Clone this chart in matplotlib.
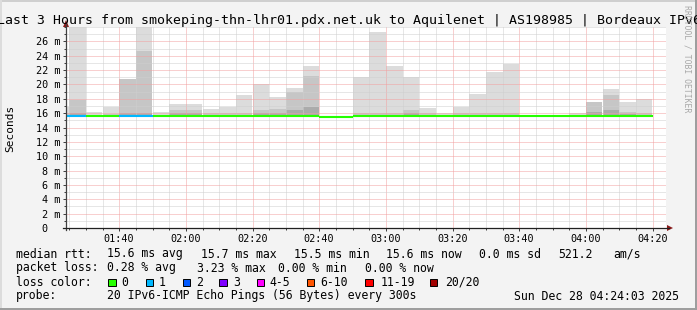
import numpy as np
import matplotlib
matplotlib.use("Agg")
import matplotlib.pyplot as plt
from matplotlib.lines import Line2D
from matplotlib.patches import Polygon, Rectangle
from matplotlib.ticker import MultipleLocator

W, H = 697, 310
MONO = "DejaVu Sans Mono"

# 5 minute steps, start of each interval
times = ["01:20", "01:25", "01:30", "01:35", "01:40", "01:45", "01:50", "01:55",
         "02:00", "02:05", "02:10", "02:15", "02:20", "02:25", "02:30", "02:35",
         "02:40", "02:45", "02:50", "02:55", "03:00", "03:05", "03:10", "03:15",
         "03:20", "03:25", "03:30", "03:35", "03:40", "03:45", "03:50", "03:55",
         "04:00", "04:05", "04:10", "04:15"]

# smoke layers (ms)
smoke_max = [16.9, 30.0, 16.1, 16.8, 20.8, 30.0, 16.1, 17.3, 17.3, 16.6, 16.9, 18.55,
             20.0, 18.3, 19.5, 22.6, 15.6, 15.6, 21.0, 27.3, 22.6, 21.1, 16.7, 16.0,
             16.9, 18.7, 21.7, 22.8, 15.6, 15.6, 15.6, 16.0, 17.6, 19.4, 17.5, 18.0]
smoke_mid = [16.0, 17.8, 15.8, 15.9, 20.8, 24.7, 15.8, 16.5, 16.4, 16.0, 16.0, 16.0,
             16.5, 16.6, 18.9, 21.2, 15.6, 15.6, 16.0, 16.0, 16.0, 16.5, 16.0, 15.8,
             16.0, 16.0, 16.0, 16.0, 15.6, 15.6, 15.6, 15.8, 17.6, 18.5, 16.2, 16.0]
smoke_core = [15.8, 16.0, 15.7, 15.7, 16.0, 16.0, 15.7, 16.0, 16.0, 15.8, 15.8, 15.8,
              16.0, 16.0, 16.4, 16.8, 15.6, 15.6, 15.8, 15.8, 15.8, 16.0, 15.8, 15.7,
              15.8, 15.8, 15.8, 15.8, 15.6, 15.6, 15.6, 15.7, 16.2, 16.4, 15.9, 15.8]
median = [15.55, 15.55, 15.6, 15.6, 15.55, 15.55, 15.6, 15.6, 15.6, 15.6, 15.6, 15.6,
          15.6, 15.6, 15.6, 15.6, 15.45, 15.45, 15.55, 15.55, 15.6, 15.6, 15.6, 15.55,
          15.55, 15.55, 15.6, 15.6, 15.6, 15.6, 15.6, 15.6, 15.6, 15.6, 15.6, 15.6]
loss_idx = [1, 1, 0, 0, 1, 1, 0, 0, 0, 0, 0, 0, 0, 0, 0, 0, 0, 0,
            0, 0, 0, 0, 0, 0, 0, 0, 0, 0, 0, 0, 0, 0, 0, 0, 0, 0]

loss_labels = ["0", "1", "2", "3", "4-5", "6-10", "11-19", "20/20"]
loss_colors = ["#26ff00", "#00b8ff", "#0059ff", "#7e00ff", "#ff00ff", "#ff5500", "#ff0000", "#a10000"]

xtick_labels = ["01:40", "02:00", "02:20", "02:40", "03:00", "03:20", "03:40", "04:00", "04:20"]
ytick_vals = [0, 2, 4, 6, 8, 10, 12, 14, 16, 18, 20, 22, 24, 26]


def tomin(s):
    h, m = s.split(":")
    return int(h) * 60 + int(m)


def fpos(x, y):
    return x / W, 1 - y / H


x0 = np.array([tomin(t) for t in times])
base = 15.4

fig = plt.figure(figsize=(W / 100, H / 100), dpi=100, facecolor="#f3f3f3")
ax = fig.add_axes([66 / W, (H - 228) / H, 600 / W, (228 - 27) / H])
ax.set_facecolor("white")
ax.set_xlim(tomin("01:24") + 0.05, tomin("04:24") + 0.05)
ax.set_ylim(0, 28)

ax.bar(x0, np.array(smoke_max) - base, width=5, bottom=base, align="edge",
       color="#dcdcdc", linewidth=0, zorder=1)
ax.bar(x0, np.array(smoke_mid) - base, width=5, bottom=base, align="edge",
       color="#c6c6c6", linewidth=0, zorder=1.1)
ax.bar(x0, np.array(smoke_core) - base, width=5, bottom=base, align="edge",
       color="#ababab", linewidth=0, zorder=1.2)

for i in range(len(times)):
    ax.hlines(median[i], x0[i], x0[i] + 5, colors=loss_colors[loss_idx[i]],
              linewidth=1.5, zorder=4, capstyle="butt")

# grid
ax.set_xticks([tomin(t) for t in xtick_labels])
ax.set_xticklabels(xtick_labels)
ax.xaxis.set_minor_locator(MultipleLocator(5))
ax.set_yticks(ytick_vals)
ax.set_yticklabels(["0  "] + ["%d m" % v for v in ytick_vals[1:]])
ax.yaxis.set_minor_locator(MultipleLocator(1))
ax.set_axisbelow(False)
ax.grid(which="minor", color="#cfcfcf", linestyle=(0, (1, 1)), linewidth=0.72)
ax.grid(which="major", color="#f2a0a0", linestyle=(0, (1, 1)), linewidth=0.72)
for sp in ax.spines.values():
    sp.set_visible(False)
ax.tick_params(which="major", length=2.2, width=0.72, color="#404040", pad=2.0,
               labelsize=7.3, labelcolor="#000000")
ax.tick_params(which="minor", length=1.4, width=0.72, color="#404040")
for lab in ax.get_xticklabels() + ax.get_yticklabels():
    lab.set_family(MONO)

# axis lines with arrows
fig.add_artist(Line2D([fpos(66, 230)[0], fpos(66, 24)[0]], [fpos(66, 230)[1], fpos(66, 24)[1]],
                      transform=fig.transFigure, color="#404040", linewidth=0.9))
fig.add_artist(Line2D([fpos(63, 228)[0], fpos(669, 228)[0]], [fpos(63, 228)[1], fpos(669, 228)[1]],
                      transform=fig.transFigure, color="#202020", linewidth=0.9))
fig.add_artist(Polygon([fpos(63, 27), fpos(69, 27), fpos(66, 20)], closed=True,
                       transform=fig.transFigure, color="#8b1a1a", linewidth=0))
fig.add_artist(Polygon([fpos(667, 225), fpos(667, 231), fpos(673, 228)], closed=True,
                       transform=fig.transFigure, color="#8b1a1a", linewidth=0))

# border
fig.add_artist(Rectangle(fpos(0, 2), 1, 2 / H, transform=fig.transFigure, color="#cfcfcf", linewidth=0))
fig.add_artist(Rectangle(fpos(0, 310), 2 / W, 1, transform=fig.transFigure, color="#dcdcdc", linewidth=0))
fig.add_artist(Rectangle(fpos(695, 310), 2 / W, 1, transform=fig.transFigure, color="#9e9e9e", linewidth=0))
fig.add_artist(Rectangle(fpos(0, 310), 1, 2 / H, transform=fig.transFigure, color="#9e9e9e", linewidth=0))

# title and labels
title = "Last 3 Hours from smokeping-thn-lhr01.pdx.net.uk to Aquilenet | AS198985 | Bordeaux IPv6"
fig.text(*fpos(-3, 24), title, family=MONO, fontsize=9.57, ha="left", va="baseline")
fig.text(*fpos(10, 128), "Seconds", family=MONO, fontsize=8, rotation=90, ha="center", va="center")
fig.text(*fpos(686.5, 59), "RRDTOOL / TOBI OETIKER", family=MONO, fontsize=5.9, rotation=270,
         ha="center", va="center", color="#a8a8a8")

# legend
fs = 8.3
rows = [
    (257.5, [(16, "median rtt:"), (107.3, "15.6 ms avg"), (201, "15.7 ms max"), (294.3, "15.5 ms min"),
             (386.3, "15.6 ms now"), (479.3, "0.0 ms sd"), (558, "521.2"), (613.7, "am/s")]),
    (271.5, [(16, "packet loss:"), (107.3, "0.28 % avg"), (197, "3.23 % max"), (278, "0.00 % min"),
             (365.3, "0.00 % now")]),
    (285.5, [(16, "loss color:")]),
    (299.5, [(16, "probe:"), (107.3, "20 IPv6-ICMP Echo Pings (56 Bytes) every 300s"),
             (513.7, "Sun Dec 28 04:24:03 2025")]),
]
for y, items in rows:
    for x, s in items:
        fig.text(*fpos(x, y), s, family=MONO, fontsize=fs, ha="left", va="baseline")

box_x = [108.3, 145.7, 182.7, 219.3, 256.7, 306.7, 365.3, 429.7]
lab_x = [121.7, 158.3, 196.0, 233.0, 269.3, 320.0, 380.3, 444.7]
for bx, lx, lab, col in zip(box_x, lab_x, loss_labels, loss_colors):
    fig.add_artist(Rectangle(fpos(bx, 286.3), 7.5 / W, 7.5 / H, transform=fig.transFigure,
                             facecolor=col, edgecolor="#000000", linewidth=0.7))
    fig.text(*fpos(lx, 285.5), lab, family=MONO, fontsize=fs, ha="left", va="baseline")

fig.savefig("out.png", dpi=100, facecolor=fig.get_facecolor())
